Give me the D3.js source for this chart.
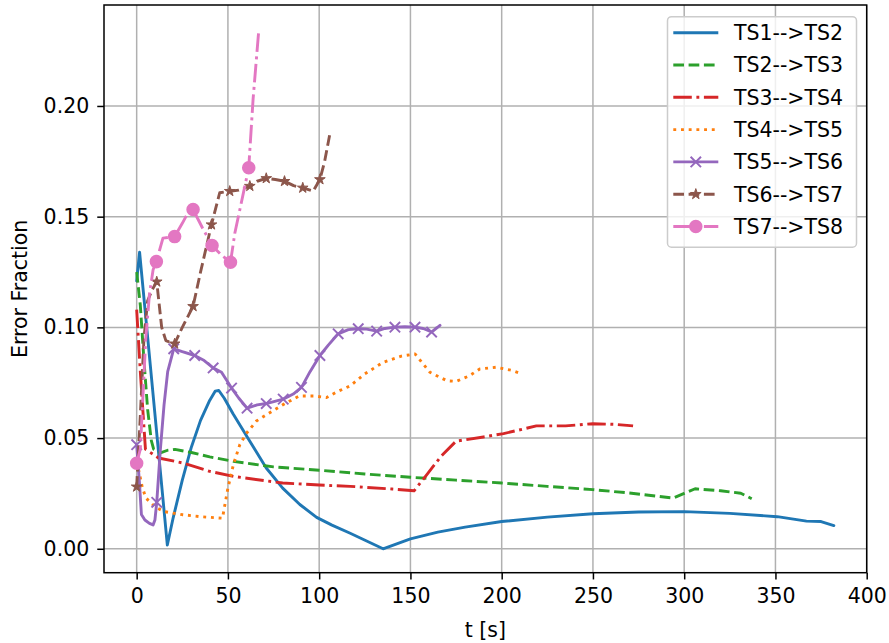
<!DOCTYPE html>
<html>
<head>
<meta charset="utf-8">
<script src="https://cdn.jsdelivr.net/npm/d3@7"></script>
<style>
  body { margin: 0; background: #fff; }
  text { font-family: "DejaVu Sans", sans-serif; fill: #000; }
</style>
</head>
<body>
<script>
// series labels and styles order
const names = ['TS1-->TS2', 'TS2-->TS3', 'TS3-->TS4', 'TS4-->TS5', 'TS5-->TS6', 'TS6-->TS7', 'TS7-->TS8'];
const xTicks = [0, 50, 100, 150, 200, 250, 300, 350, 400];
const yTicks = [0.00, 0.05, 0.10, 0.15, 0.20];

// [t, error]
const ts1 = [[0,0.121],[1.6,0.134],[16.8,0.0017],[20,0.014],[25,0.031],[30,0.046],[35,0.058],[40,0.067],[43,0.0712],[45,0.0715],
  [48,0.068],[52.8,0.061],[62,0.0486],[71,0.0365],[80,0.0274],[89.4,0.020],[98.6,0.0142],[107,0.0107],[117,0.007],
  [126,0.0035],[135,0.0],[150,0.0045],[165,0.0075],[180,0.0098],[200,0.0123],[225,0.0143],[250,0.0158],[275,0.0166],
  [300,0.0168],[325,0.016],[351,0.0145],[367,0.0125],[375,0.0123],[382,0.0105]];
const ts2 = [[0,0.125],[2,0.11],[4,0.085],[6,0.063],[8,0.049],[9.3,0.045],[13,0.0433],[17,0.0445],[21,0.0449],
  [30,0.0435],[40,0.0415],[53,0.0395],[75,0.037],[100,0.0355],[125,0.0338],[150,0.0323],[175,0.031],[200,0.0297],
  [225,0.0282],[250,0.0267],[270,0.0252],[294,0.0229],[300,0.025],[306,0.0271],[320,0.0262],[331,0.0251],[337,0.0226]];
const ts3 = [[0,0.108],[2,0.08],[4.8,0.045],[12,0.041],[25,0.0388],[40,0.035],[53,0.0327],[80,0.0297],[100,0.0288],
  [117,0.0282],[140,0.027],[152,0.0262],[159,0.0335],[167,0.042],[175,0.0486],[190,0.0505],[201,0.052],[219,0.0555],
  [235,0.0555],[250,0.0565],[262,0.0562],[272,0.0555]];
const ts4 = [[1,0.036],[3,0.028],[5,0.023],[10,0.019],[15,0.0168],[25,0.0154],[35,0.0145],[47,0.0138],[50,0.0274],
  [53,0.038],[56.5,0.047],[60,0.052],[65.6,0.0577],[72,0.061],[80,0.065],[89,0.069],[97,0.069],[104,0.0683],
  [110,0.071],[117,0.0736],[125,0.079],[135,0.0842],[145,0.087],[152.5,0.088],[160.7,0.0797],[170,0.0759],
  [175,0.0756],[182,0.078],[188,0.0812],[197,0.082],[206,0.0805],[211,0.079]];
// [t, error, marker]
const ts5 = [[0,0.047,1],[1.5,0.03,0],[2.6,0.0155,0],[4.5,0.013,0],[7,0.0115,0],[9,0.0108,0],[10,0.013,0],[11,0.021,1],
  [13,0.045,0],[15,0.065,0],[17,0.08,0],[20.3,0.0903,1],[25,0.089,0],[31.8,0.0873,1],[37,0.085,0],[41.9,0.0817,1],
  [46.5,0.0797,0],[52,0.0726,1],[56,0.068,0],[60.5,0.0635,1],[66,0.065,0],[71,0.0656,1],[80.3,0.0676,1],[85.8,0.0699,0],
  [90.3,0.0729,1],[95,0.08,0],[100.4,0.0873,1],[105,0.092,0],[110.4,0.0971,1],[116,0.099,0],[121.4,0.0994,1],
  [126,0.0992,0],[131.5,0.0983,1],[136,0.0995,0],[141.5,0.1001,1],[147,0.1003,0],[152.5,0.1001,1],[157,0.0995,0],
  [161.6,0.0979,1],[166.2,0.1009,0]];
const ts6 = [[0,0.028,1],[2,0.06,0],[4,0.095,0],[6,0.112,0],[8.5,0.117,0],[11,0.1206,1],[13.7,0.1,0],[16,0.094,0],
  [20.8,0.0926,1],[25,0.1,0],[30.9,0.1095,1],[35,0.125,0],[41,0.1464,1],[45.5,0.1608,0],[51,0.1615,1],[56,0.162,0],
  [62,0.1638,1],[66,0.166,0],[71,0.1673,1],[76,0.1668,0],[81,0.166,1],[86,0.164,0],[91,0.163,1],[96.7,0.1615,0],
  [100.4,0.1668,1],[103,0.175,0],[106,0.188,0]];
const ts7 = [[0,0.0386,1],[2,0.045,0],[3.5,0.07,0],[5,0.095,0],[7,0.115,0],[9,0.126,0],[10.8,0.1297,1],[14.4,0.1403,0],
  [20.8,0.141,1],[25,0.147,0],[27.6,0.151,0],[30.9,0.1532,1],[36,0.145,0],[41.3,0.137,1],[46,0.133,0],[51.4,0.1294,1],
  [53.8,0.1426,0],[57,0.155,0],[61.4,0.1721,1],[63.8,0.2032,0],[66.9,0.2342,0]];

const series = [ts1, ts2, ts3, ts4, ts5, ts6, ts7];

// look of each line (matplotlib-like, px at ~139 dpi)
const lw = 2.9;
const styles = [
  {color: '#1f77b4', dash: null, marker: null},
  {color: '#2ca02c', dash: '10.7,4.6', marker: null},
  {color: '#d62728', dash: '18.5,4.6,2.9,4.6', marker: null},
  {color: '#ff7f0e', dash: '2.9,4.8', marker: null},
  {color: '#9467bd', dash: null, marker: 'x'},
  {color: '#8c564b', dash: '10.7,4.6', marker: 'star'},
  {color: '#e377c2', dash: '18.5,4.6,2.9,4.6', marker: 'o'}
];

const width = 889, height = 643;
const box = {left: 104, right: 866.7, top: 5, bottom: 572.7};
const fs = 20.5;

const svg = d3.select('body').append('svg')
  .attr('width', width).attr('height', height);

const x = d3.scaleLinear().domain([-17.9, 400]).range([box.left, box.right]);
const y = d3.scaleLinear().domain([-0.0108, 0.2456]).range([box.bottom, box.top]);

// grid
const grid = svg.append('g');
grid.selectAll('.gx').data(xTicks).join('line')
  .attr('x1', d => x(d)).attr('x2', d => x(d))
  .attr('y1', box.top).attr('y2', box.bottom)
  .attr('stroke', '#b0b0b0').attr('stroke-width', 1.5);
grid.selectAll('.gy').data(yTicks).join('line')
  .attr('y1', d => y(d)).attr('y2', d => y(d))
  .attr('x1', box.left).attr('x2', box.right)
  .attr('stroke', '#b0b0b0').attr('stroke-width', 1.5);

// lines
const line = d3.line().x(d => x(d[0])).y(d => y(d[1]));
const plot = svg.append('g');

function drawMarker(g, type, color, cx, cy) {
  if (type === 'x') {
    const r = 5.2;
    g.append('path')
      .attr('d', `M${cx - r},${cy - r}L${cx + r},${cy + r}M${cx - r},${cy + r}L${cx + r},${cy - r}`)
      .attr('stroke', color).attr('stroke-width', 1.93).attr('fill', 'none');
  } else if (type === 'star') {
    const r = 5.6;
    g.append('path')
      .attr('d', d3.symbol(d3.symbolStar, r * r / 0.8908130915292852)())
      .attr('transform', `translate(${cx},${cy})`)
      .attr('fill', color).attr('stroke', color).attr('stroke-width', 1).attr('stroke-linejoin', 'miter');
  } else if (type === 'o') {
    g.append('circle').attr('cx', cx).attr('cy', cy).attr('r', 5.8)
      .attr('fill', color).attr('stroke', color).attr('stroke-width', 1.93);
  }
}

series.forEach((s, i) => {
  const st = styles[i];
  plot.append('path')
    .attr('d', line(s))
    .attr('fill', 'none')
    .attr('stroke', st.color)
    .attr('stroke-width', lw)
    .attr('stroke-linejoin', 'round')
    .attr('stroke-linecap', st.dash ? 'butt' : 'round')
    .attr('stroke-dasharray', st.dash);
  if (st.marker) {
    s.filter(d => d[2]).forEach(d => drawMarker(plot, st.marker, st.color, x(d[0]), y(d[1])));
  }
});

// axes
const xAxis = d3.axisBottom(x).tickValues(xTicks).tickFormat(d3.format('d')).tickSize(6.75).tickPadding(9.5);
const yAxis = d3.axisLeft(y).tickValues(yTicks).tickFormat(d3.format('.2f')).tickSize(6.75).tickPadding(8);

const gx = svg.append('g').attr('transform', `translate(0,${box.bottom})`).call(xAxis);
const gy = svg.append('g').attr('transform', `translate(${box.left},0)`).call(yAxis);
[gx, gy].forEach(g => {
  g.select('.domain').remove();
  g.selectAll('.tick line').attr('stroke', '#000').attr('stroke-width', 1.5);
  g.selectAll('.tick text').attr('font-size', fs).attr('font-family', '"DejaVu Sans", sans-serif').attr('fill', '#000');
});

svg.append('rect')
  .attr('x', box.left).attr('y', box.top)
  .attr('width', box.right - box.left).attr('height', box.bottom - box.top)
  .attr('fill', 'none').attr('stroke', '#000').attr('stroke-width', 1.5);

// axis labels
svg.append('text').attr('x', (box.left + box.right) / 2).attr('y', 637)
  .attr('text-anchor', 'middle').attr('font-size', fs).text('t [s]');
svg.append('text').attr('transform', `translate(27,${(box.top + box.bottom) / 2}) rotate(-90)`)
  .attr('text-anchor', 'middle').attr('font-size', fs).text('Error Fraction');

// legend
const leg = svg.append('g');
leg.append('rect')
  .attr('x', 667.5).attr('y', 16.7).attr('width', 189).attr('height', 230.5)
  .attr('rx', 4).attr('fill', '#fff').attr('fill-opacity', 0.8)
  .attr('stroke', '#cccccc').attr('stroke-width', 1.5);
names.forEach((n, i) => {
  const st = styles[i];
  const cy = 32.7 + i * 32.3;
  leg.append('line')
    .attr('x1', 673.3).attr('x2', 718.3).attr('y1', cy).attr('y2', cy)
    .attr('stroke', st.color).attr('stroke-width', lw)
    .attr('stroke-dasharray', st.dash);
  if (st.marker) drawMarker(leg, st.marker, st.color, 695.8, cy);
  leg.append('text').attr('x', 734).attr('y', cy + 7.4)
    .attr('font-size', fs).text(n);
});
</script>
</body>
</html>
